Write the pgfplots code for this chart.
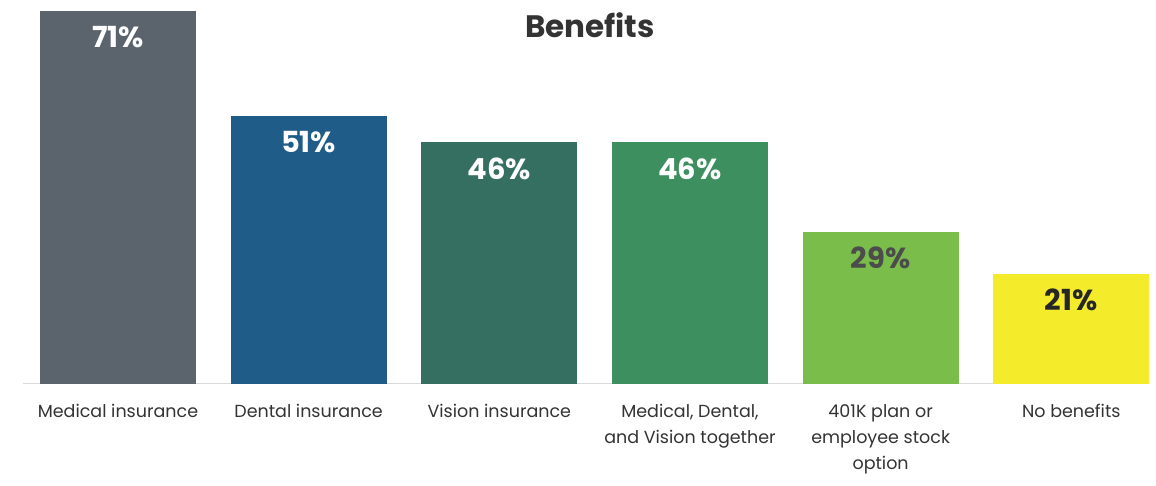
\documentclass[border=0pt]{standalone}
\usepackage{fontspec}
\setmainfont{Poppins}
\usepackage{pgfplots}
\pgfplotsset{compat=1.18}
\definecolor{cGray}{HTML}{5B636D}
\definecolor{cBlue}{HTML}{1F5C87}
\definecolor{cTeal}{HTML}{356F62}
\definecolor{cGreen}{HTML}{3E8F5F}
\definecolor{cLime}{HTML}{7ABD4A}
\definecolor{cYellow}{HTML}{F4EC2B}
\definecolor{txt}{HTML}{333333}
\begin{document}
\begin{tikzpicture}
\useasboundingbox (0,0) rectangle (1156pt,486pt);
\node[font=\fontsize{31}{34}\selectfont\bfseries, text=txt, anchor=center] at (590pt,461pt) {Benefits};
\begin{axis}[
  at={(22.6pt,102pt)}, anchor=south west,
  scale only axis, width=1125pt, height=378pt,
  xmin=-0.5, xmax=5.4, ymin=0, ymax=72,
  axis x line*=bottom, axis y line=none,
  x axis line style={draw=black!15, line width=1pt},
  xtick={0,1,2,3,4,5}, major tick length=0pt,
  xticklabels={Medical insurance, Dental insurance, Vision insurance, {Medical, Dental,\\and Vision together}, {401K plan or\\employee stock\\option}, No benefits},
  xticklabel style={align=center, font=\fontsize{17.5}{26}\selectfont, text=txt, yshift=-17pt},
  ybar, bar width=156pt, bar shift=0pt,
  point meta=explicit symbolic,
  nodes near coords,
  every node near coord/.append style={anchor=north, yshift=-12pt, font=\fontsize{29}{32}\selectfont\bfseries},
  clip=false,
]
\addplot[fill=cGray, draw=none, nodes near coords style={text=white}] coordinates {(0,71) [71\%]};
\addplot[fill=cBlue, draw=none, nodes near coords style={text=white}] coordinates {(1,51) [51\%]};
\addplot[fill=cTeal, draw=none, nodes near coords style={text=white}] coordinates {(2,46) [46\%]};
\addplot[fill=cGreen, draw=none, nodes near coords style={text=white}] coordinates {(3,46) [46\%]};
\addplot[fill=cLime, draw=none, nodes near coords style={text=black!70}] coordinates {(4,29) [29\%]};
\addplot[fill=cYellow, draw=none, nodes near coords style={text=black!85}] coordinates {(5,21) [21\%]};
\end{axis}
\end{tikzpicture}
\end{document}
